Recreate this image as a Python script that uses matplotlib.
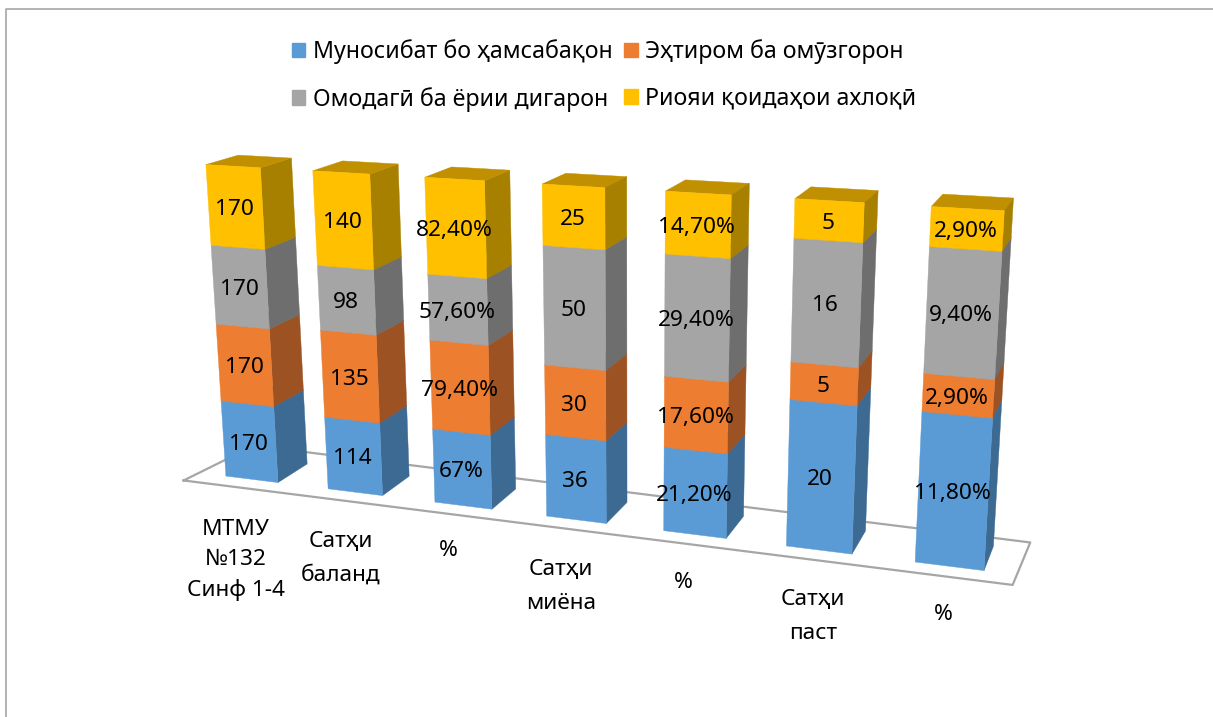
import numpy as np
import matplotlib
matplotlib.use("Agg")
import matplotlib.pyplot as plt
from matplotlib.patches import Patch
from matplotlib.lines import Line2D
from mpl_toolkits.mplot3d import proj3d

W, H = 1213, 717
categories = ["МТМУ\n№132\nСинф 1-4", "Сатҳи\nбаланд", "%", "Сатҳи\nмиёна", "%", "Сатҳи\nпаст", "%"]
series_names = ["Муносибат бо ҳамсабақон", "Эҳтиром ба омӯзгорон", "Омодагӣ ба ёрии дигарон", "Риояи қоидаҳои ахлоқӣ"]
s1 = [170, 114, 67, 36, 21.2, 20, 11.8]
s2 = [170, 135, 79.4, 30, 17.6, 5, 2.9]
s3 = [170, 98, 57.6, 50, 29.4, 16, 9.4]
s4 = [170, 140, 82.4, 25, 14.7, 5, 2.9]
l1 = ["170", "114", "67%", "36", "21,20%", "20", "11,80%"]
l2 = ["170", "135", "79,40%", "30", "17,60%", "5", "2,90%"]
l3 = ["170", "98", "57,60%", "50", "29,40%", "16", "9,40%"]
l4 = ["170", "140", "82,40%", "25", "14,70%", "5", "2,90%"]
front = ["#5B9BD5", "#ED7D31", "#A5A5A5", "#FFC000"]
side = ["#3C6A92", "#9C5222", "#6E6E6E", "#A88000"]
top = ["#46759F", "#B05E27", "#7D7D7D", "#C09000"]

plt.rcParams['font.family'] = ['Noto Sans', 'DejaVu Sans']
fig = plt.figure(figsize=(W/100, H/100), dpi=100)
ax = fig.add_axes([0, 0, 1, 1], projection='3d')
ax.set_axis_off()
ax.set_xlim(-1, 7, view_margin=0); ax.set_ylim(0, 1, view_margin=0); ax.set_zlim(0, 1, view_margin=0)

# camera and box fitted to the reference
el, az, ro, f, ay, azz = 15.36, -69.78, 0.4148, 0.3197, 0.09206, 0.342
cx, cy, S = 586.1, 368.1, 1026.3
w, g, dx, dy = 0.2576, 0.1494, -0.1597, 0.8294
floor_x = [-0.545, 6.4935, 6.517, -0.455, -0.545]
floor_y = [-0.149, -0.132, 1.089, 1.255, -0.149]
nudge_x = [12, 9, 4, -2, -4, -5, -13]
nudge_y = [10, 8, 2, 5, 2, 2, -2]
ax.view_init(el, az, ro)
ax.set_proj_type('persp', focal_length=f)
ax.set_box_aspect((1, ay, azz))

l, b = cx-S/2, cy-S/2
for _ in range(3):
    ax.set_position([l/W, b/H, S/W, S/H])
    ax.apply_aspect()
    o = ax.transData.transform((0, 0))
    l += cx-o[0]; b += cy-o[1]
ax.set_position([l/W, b/H, S/W, S/H])
ax.apply_aspect()

def to_fig(x, y, z, ox=0, oy=0):
    xp, yp, _ = proj3d.proj_transform(x, y, z, ax.get_proj())
    d = ax.transData.transform((float(xp), float(yp)))
    return (d[0]+ox)/W, (d[1]-oy)/H

ax.computed_zorder = False
ax.plot(floor_x, floor_y, [0]*5, color="#A6A6A6", lw=1.6, zorder=1)
none = (0, 0, 0, 0)
series = [s1, s2, s3, s4]; labels = [l1, l2, l3, l4]
zo = 2
for i in range(7):
    tot = sum(v[i] for v in series); base = 0
    for j, v in enumerate(series):
        h = v[i]/tot
        cols = [none, top[j], front[j], none, none, side[j]]
        ax.bar3d(i-w, g, base, 2*w, 1-2*g, h, color=cols, edgecolor=cols, linewidth=0.3, shade=False, zorder=zo)
        zo += 1
        fx, fy = to_fig(i, g, base+h/2, -1, 2.5)
        fig.text(fx, fy, labels[j][i], ha='center', va='center', fontsize=16.3, color='k', zorder=50)
        base += h
for i, c_ in enumerate(categories):
    fx, fy = to_fig(i-dx, -dy, 0, nudge_x[i], nudge_y[i])
    ls = 1.53 if c_.count("\n") == 2 else 1.8
    fig.text(fx, fy, c_, ha='center', va='top', fontsize=16.3, color='k', zorder=50, linespacing=ls)

handles = [Patch(color=front[0]), Patch(color=front[2]), Patch(color=front[1]), Patch(color=front[3])]
names = [series_names[0], series_names[2], series_names[1], series_names[3]]
fig.legend(handles, names, ncol=2, frameon=False, fontsize=16.7, loc='center', bbox_to_anchor=(604/W, 1-75.5/H),
           handlelength=0.58, handleheight=0.58, handletextpad=0.33, columnspacing=0.5, labelspacing=0.97)
fig.add_artist(Line2D([5.5/W, 5.5/W, 1], [0, 1-8.5/H, 1-8.5/H], color="#A6A6A6", lw=1.2))
fig.savefig("out.png", dpi=100)
